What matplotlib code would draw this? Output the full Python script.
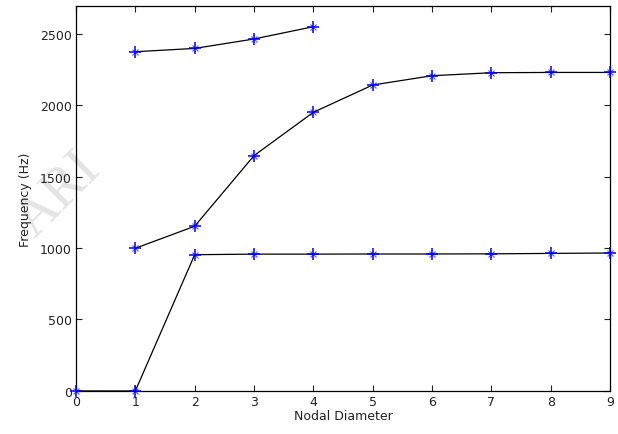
import numpy as np
import matplotlib.pyplot as plt

# Frequencies per mode family vs nodal diameter
nd_low = [0, 1, 2, 3, 4, 5, 6, 7, 8, 9]
freq_low = [0, 0, 953, 957, 957, 958, 958, 959, 962, 965]

nd_mid = [1, 2, 3, 4, 5, 6, 7, 8, 9]
freq_mid = [998, 1152, 1646, 1949, 2140, 2205, 2226, 2228, 2228]

nd_high = [1, 2, 3, 4]
freq_high = [2373, 2396, 2462, 2548]

x_ticks = list(range(0, 10))
y_ticks = [0, 500, 1000, 1500, 2000, 2500]

plt.rcParams['font.family'] = ['DejaVu Sans']

fig = plt.figure(figsize=(6.18, 4.35), dpi=100)
ax = fig.add_axes([0.123, 0.099, 0.864, 0.884])
ax.set_zorder(1)

# faint watermark behind everything
fig.text(0.095, 0.55, 'ARI', rotation=45, fontsize=40, color='#e4e4e4',
         family='Liberation Serif', ha='center', va='center', zorder=0)

for xs, ys in [(nd_low, freq_low), (nd_mid, freq_mid), (nd_high, freq_high)]:
    ax.plot(xs, ys, color='black', linewidth=0.9, zorder=2)
    ax.plot(xs, ys, linestyle='none', marker='+', markersize=9,
            color='blue', markeredgewidth=1.3, alpha=0.85, zorder=3,
            clip_on=False)
    ax.plot(xs, ys, linestyle='none', marker='x', markersize=5,
            color='blue', markeredgewidth=0.9, alpha=0.6, zorder=3,
            clip_on=False)

ax.set_xlim(0, 9)
ax.set_ylim(0, 2690)
ax.set_xticks(x_ticks)
ax.set_yticks(y_ticks)
ax.tick_params(direction='in', length=4, width=0.8, top=True, right=True,
               labelsize=9, pad=3, colors='#222222')
for s in ax.spines.values():
    s.set_linewidth(0.9)
ax.patch.set_alpha(0)

ax.set_xlabel('Nodal Diameter', fontsize=9, labelpad=1, color='#222222')
ax.set_ylabel('Frequency (Hz)', fontsize=9, labelpad=6, color='#222222')

fig.savefig('out.png', dpi=100)
